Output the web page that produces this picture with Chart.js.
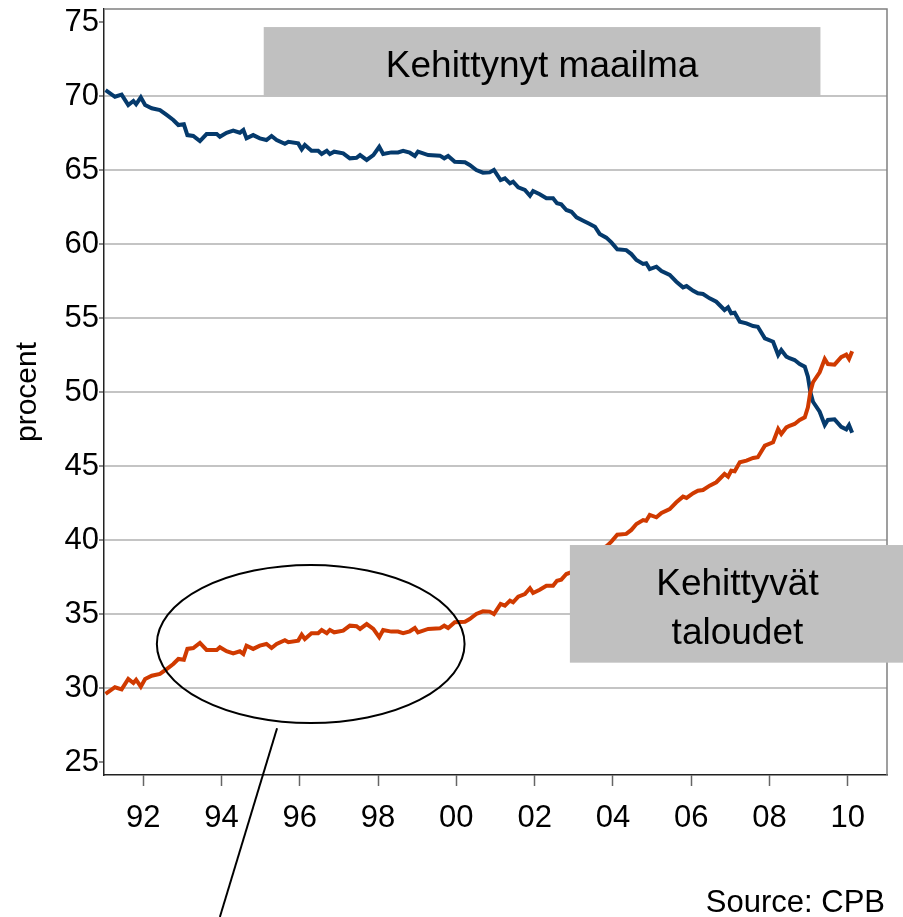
<!DOCTYPE html>
<html>
<head>
<meta charset="utf-8">
<script src="https://cdn.jsdelivr.net/npm/chart.js@4/dist/chart.umd.min.js"></script>
<style>
  body { margin: 0; background: #fff; }
  canvas { display: block; }
</style>
</head>
<body>
<canvas id="grafico" width="903" height="917"></canvas>
<script>
// vuodet (desimaalivuosi) ja osuudet, luettu kuvasta
const vuodet = [
  1991.04, 1991.28, 1991.45, 1991.62, 1991.75, 1991.82, 1991.94, 1992.05, 1992.22, 1992.43,
  1992.60, 1992.77, 1992.90, 1993.04, 1993.13, 1993.28, 1993.45, 1993.62, 1993.88, 1993.96,
  1994.13, 1994.30, 1994.47, 1994.56, 1994.64, 1994.81, 1994.98, 1995.15, 1995.28, 1995.41,
  1995.62, 1995.71, 1995.96, 1996.05, 1996.13, 1996.30, 1996.47, 1996.56, 1996.69, 1996.77,
  1996.88, 1997.11, 1997.28, 1997.45, 1997.54, 1997.71, 1997.88, 1998.03, 1998.13, 1998.34,
  1998.51, 1998.64, 1998.81, 1998.94, 1999.02, 1999.28, 1999.58, 1999.69, 1999.79, 1999.96,
  2000.22, 2000.34, 2000.51, 2000.68, 2000.85, 2000.96, 2001.13, 2001.24, 2001.37, 2001.45,
  2001.58, 2001.75, 2001.88, 2001.96, 2002.13, 2002.30, 2002.47, 2002.57, 2002.68, 2002.81,
  2002.94, 2003.07, 2003.24, 2003.37, 2003.54, 2003.66, 2003.83, 2003.96, 2004.11, 2004.34,
  2004.47, 2004.60, 2004.77, 2004.85, 2004.94, 2005.11, 2005.24, 2005.45, 2005.62, 2005.79,
  2005.88, 2006.05, 2006.17, 2006.30, 2006.47, 2006.64, 2006.85, 2006.94, 2007.02, 2007.11,
  2007.24, 2007.41, 2007.58, 2007.70, 2007.88, 2008.09, 2008.22, 2008.30, 2008.43, 2008.51,
  2008.64, 2008.77, 2008.90, 2008.98, 2009.04, 2009.11, 2009.28, 2009.41, 2009.49, 2009.66,
  2009.83, 2009.96, 2010.03, 2010.11
];

const kehittynyt = [
  70.40, 69.95, 70.09, 69.39, 69.66, 69.44, 69.91, 69.39, 69.17, 69.05,
  68.72, 68.38, 68.04, 68.09, 67.36, 67.30, 66.96, 67.43, 67.43, 67.25,
  67.52, 67.66, 67.52, 67.70, 67.14, 67.36, 67.14, 67.03, 67.30, 67.03,
  66.77, 66.91, 66.80, 66.40, 66.69, 66.30, 66.30, 66.08, 66.30, 66.08,
  66.24, 66.13, 65.79, 65.83, 66.01, 65.68, 66.01, 66.57, 66.08, 66.19,
  66.19, 66.30, 66.17, 65.95, 66.24, 66.01, 65.97, 65.79, 65.95, 65.56,
  65.52, 65.34, 65.00, 64.82, 64.84, 65.00, 64.32, 64.44, 64.10, 64.21,
  63.83, 63.65, 63.26, 63.58, 63.36, 63.09, 63.09, 62.75, 62.68, 62.30,
  62.18, 61.80, 61.57, 61.40, 61.17, 60.68, 60.43, 60.11, 59.64, 59.59,
  59.32, 58.92, 58.65, 58.70, 58.31, 58.47, 58.18, 57.91, 57.45, 57.07,
  57.16, 56.84, 56.67, 56.62, 56.33, 56.10, 55.54, 55.72, 55.32, 55.36,
  54.75, 54.64, 54.46, 54.41, 53.63, 53.40, 52.50, 52.84, 52.39, 52.28,
  52.16, 51.89, 51.71, 51.03, 50.02, 49.34, 48.67, 47.77, 48.11, 48.15,
  47.65, 47.48, 47.77, 47.25
];

const kehittyvat = [
  29.60, 30.05, 29.91, 30.61, 30.34, 30.56, 30.09, 30.61, 30.83, 30.95,
  31.28, 31.62, 31.96, 31.91, 32.64, 32.70, 33.04, 32.57, 32.57, 32.75,
  32.48, 32.34, 32.48, 32.30, 32.86, 32.64, 32.86, 32.97, 32.70, 32.97,
  33.23, 33.09, 33.20, 33.60, 33.31, 33.70, 33.70, 33.92, 33.70, 33.92,
  33.76, 33.87, 34.21, 34.17, 33.99, 34.32, 33.99, 33.43, 33.92, 33.81,
  33.81, 33.70, 33.83, 34.05, 33.76, 33.99, 34.03, 34.21, 34.05, 34.44,
  34.48, 34.66, 35.00, 35.18, 35.16, 35.00, 35.68, 35.56, 35.90, 35.79,
  36.17, 36.35, 36.74, 36.42, 36.64, 36.91, 36.91, 37.25, 37.32, 37.70,
  37.82, 38.20, 38.43, 38.60, 38.83, 39.32, 39.57, 39.89, 40.36, 40.41,
  40.68, 41.08, 41.35, 41.30, 41.69, 41.53, 41.82, 42.09, 42.55, 42.93,
  42.84, 43.16, 43.33, 43.38, 43.67, 43.90, 44.46, 44.28, 44.68, 44.64,
  45.25, 45.36, 45.54, 45.59, 46.37, 46.60, 47.50, 47.16, 47.61, 47.72,
  47.84, 48.11, 48.29, 48.97, 49.98, 50.66, 51.33, 52.23, 51.89, 51.85,
  52.35, 52.52, 52.23, 52.75
];

const xTicks = [1992, 1994, 1996, 1998, 2000, 2002, 2004, 2006, 2008, 2010];
const yTicks = [25, 30, 35, 40, 45, 50, 55, 60, 65, 70, 75];

const fontti = '"Liberation Sans", Arial, sans-serif';

// laatikot, ellipsi ja teksti piirretään datan päälle
const merkinnat = {
  id: 'merkinnat',
  beforeDatasetsDraw(chart) {
    const { ctx, chartArea } = chart;
    ctx.save();
    ctx.strokeStyle = '#808080';
    ctx.lineWidth = 1.5;
    ctx.beginPath();
    ctx.moveTo(chartArea.left, chartArea.top);
    ctx.lineTo(chartArea.right, chartArea.top);
    ctx.lineTo(chartArea.right, chartArea.bottom);
    ctx.stroke();
    ctx.restore();
  },
  afterDatasetsDraw(chart) {
    const { ctx, scales: { x, y } } = chart;
    ctx.save();

    // Kehittynyt maailma
    const b1x = x.getPixelForValue(1995.08), b1r = x.getPixelForValue(2009.30);
    const b1t = y.getPixelForValue(74.66), b1b = y.getPixelForValue(69.95);
    ctx.fillStyle = '#c0c0c0';
    ctx.fillRect(b1x, b1t, b1r - b1x, b1b - b1t);

    // Kehittyvät taloudet
    const b2x = x.getPixelForValue(2002.90);
    const b2t = y.getPixelForValue(39.66), b2b = y.getPixelForValue(31.71);
    ctx.fillRect(b2x, b2t, chart.width - b2x, b2b - b2t);

    ctx.fillStyle = '#000';
    ctx.font = '37px ' + fontti;
    ctx.textAlign = 'center';
    ctx.textBaseline = 'alphabetic';
    ctx.fillText('Kehittynyt maailma', (b1x + b1r) / 2, b1b - 20);
    const c2 = (b2x + chart.width) / 2 + 1;
    ctx.fillText('Kehittyvät', c2, b2t + 50);
    ctx.fillText('taloudet', c2, b2t + 99);

    // ellipsi ja viiva
    const ex = x.getPixelForValue(1996.28), ey = y.getPixelForValue(32.97);
    const rx = x.getPixelForValue(1996.28 + 3.93) - ex;
    const ry = y.getPixelForValue(32.97 - 5.34) - ey;
    ctx.strokeStyle = '#000';
    ctx.lineWidth = 2;
    ctx.beginPath();
    ctx.ellipse(ex, ey, rx, ry, 0, 0, Math.PI * 2);
    ctx.stroke();
    ctx.beginPath();
    ctx.moveTo(x.getPixelForValue(1995.42), y.getPixelForValue(27.28));
    ctx.lineTo(x.getPixelForValue(1993.96), y.getPixelForValue(14.53));
    ctx.stroke();

    ctx.font = '31px ' + fontti;
    ctx.textAlign = 'right';
    ctx.fillText('Source: CPB', 885, 912);
    ctx.restore();
  }
};

const graficoChart = new Chart(document.getElementById('grafico'), {
  type: 'line',
  data: {
    datasets: [
      {
        label: 'Kehittyvät taloudet',
        data: vuodet.map((v, i) => ({ x: v, y: kehittyvat[i] })),
        borderColor: '#d03a00',
        borderWidth: 4,
        pointRadius: 0,
        tension: 0
      },
      {
        label: 'Kehittynyt maailma',
        data: vuodet.map((v, i) => ({ x: v, y: kehittynyt[i] })),
        borderColor: '#053a6c',
        borderWidth: 4,
        pointRadius: 0,
        tension: 0
      }
    ]
  },
  options: {
    responsive: false,
    animation: false,
    layout: { padding: { top: 9, right: 16, left: 0, bottom: 0 } },
    plugins: { legend: { display: false }, tooltip: { enabled: false } },
    scales: {
      x: {
        type: 'linear',
        min: 1991,
        max: 2011,
        afterBuildTicks: s => { s.ticks = xTicks.map(v => ({ value: v })); },
        afterFit: s => { s.height = 142; s.paddingLeft = 0; s.paddingRight = 0; },
        grid: { drawOnChartArea: false, tickLength: 11, tickColor: '#666', tickWidth: 1.5 },
        border: { color: '#222', width: 1.5 },
        ticks: {
          color: '#000',
          padding: 14,
          maxRotation: 0,
          font: { family: fontti, size: 31 },
          callback: v => String(v % 100).padStart(2, '0')
        }
      },
      y: {
        min: 24.12,
        max: 75.88,
        afterBuildTicks: s => { s.ticks = yTicks.map(v => ({ value: v })); },
        afterFit: s => { s.width = 104; s.paddingTop = 0; s.paddingBottom = 0; },
        grid: {
          color: c => (c.tick && (c.tick.value === 25 || c.tick.value === 75)) ? 'rgba(0,0,0,0)' : '#c4c4c4',
          lineWidth: 2,
          tickLength: 5,
          tickColor: '#666',
          tickWidth: 1.5
        },
        border: { color: '#222', width: 1.5 },
        title: {
          display: true,
          text: 'procent',
          color: '#000',
          padding: { top: 10, bottom: 0 },
          font: { family: fontti, size: 30 }
        },
        ticks: {
          color: '#000',
          padding: 0,
          font: { family: fontti, size: 31 }
        }
      }
    }
  },
  plugins: [merkinnat]
});
</script>
</body>
</html>
